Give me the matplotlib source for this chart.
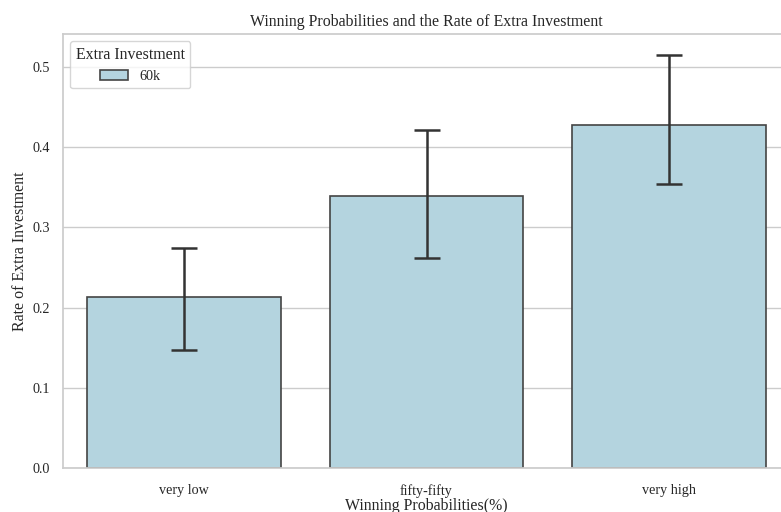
import numpy as np
import matplotlib
matplotlib.use("Agg")
import matplotlib.pyplot as plt
import seaborn as sns

# rate of extra investment per winning-probability group (60k condition)
categories = ["very low", "fifty-fifty", "very high"]
rate_mean = [0.2137, 0.3395, 0.4275]
ci_low = [0.1477, 0.2616, 0.3544]
ci_high = [0.2740, 0.4209, 0.5150]
group_label = "60k"

sns.set_theme(style="whitegrid")
plt.rcParams["font.family"] = ["Liberation Serif", "DejaVu Serif"]

fig = plt.figure(figsize=(7.81, 5.12), dpi=100)
ax = fig.add_axes([0.0807, 0.0854, 0.9308, 0.8482])

x = np.arange(len(categories))
mean = np.array(rate_mean)
yerr = np.vstack([mean - np.array(ci_low), np.array(ci_high) - mean])

bar_color = sns.desaturate("lightblue", 0.75)
ax.bar(x, mean, width=0.8, color=bar_color, edgecolor="#444444",
       linewidth=1.2, label=group_label, zorder=2)
ax.errorbar(x, mean, yerr=yerr, fmt="none", ecolor="#333333",
            elinewidth=1.8, capsize=9.4, capthick=1.8, zorder=3)

ax.set_xlim(-0.5, len(categories) - 0.5)
ax.set_xticks(x)
ax.set_xticklabels(categories, fontsize=10.2)
ax.tick_params(axis="x", pad=5.2)
ax.tick_params(axis="y", labelsize=10.2)
ax.set_yticks([0.0, 0.1, 0.2, 0.3, 0.4, 0.5])
ax.set_ylim(0, 0.541)
ax.set_xlabel("Winning Probabilities(%)", fontsize=11.4, labelpad=0)
ax.set_ylabel("Rate of Extra Investment", fontsize=11.4, labelpad=3)
ax.set_title("Winning Probabilities and the Rate of Extra Investment",
             fontsize=11.4, pad=5.5)
ax.grid(axis="x", visible=False)
ax.set_axisbelow(True)

ax.legend(title="Extra Investment", loc="upper left", fontsize=10.2,
          title_fontsize=11.4)

fig.savefig("out.png", dpi=100)
